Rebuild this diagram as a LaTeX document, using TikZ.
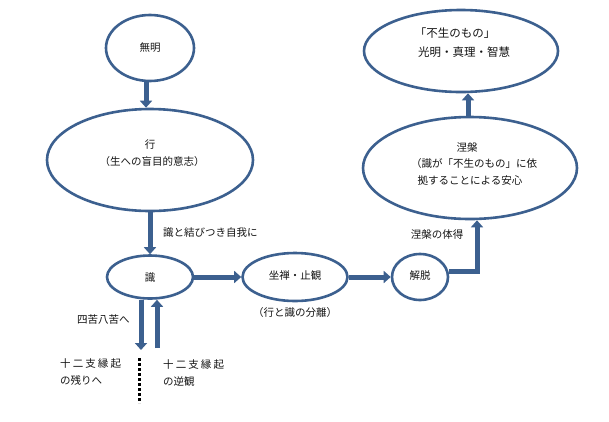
\documentclass[tikz,border=0pt]{standalone}
\usepackage{fontspec}
\setmainfont{Noto Sans CJK JP}
\usetikzlibrary{shapes.geometric,arrows.meta}
\definecolor{edge}{RGB}{60,96,143}
\definecolor{ink}{RGB}{20,20,20}
\begin{document}
\begin{tikzpicture}[x=1pt,y=-1pt,
  oval/.style={ellipse,draw=edge,line width=2.6pt,inner sep=0pt,fill=white},
  arr/.style={draw=edge,line width=5pt,-{Triangle[length=7pt,width=12pt]}},
  txt/.style={text=ink,font=\fontsize{10.5}{14}\selectfont,inner sep=0pt},
  bigtxt/.style={text=ink,font=\fontsize{11.5}{14}\selectfont,inner sep=0pt},
  dots/.style={draw=black,line width=3pt,dash pattern=on 2.5pt off 2.5pt},
]
\fill[white] (0,0) rectangle (609,421);
\useasboundingbox (0,0) rectangle (609,421);

% ellipses
\node[oval,minimum width=88pt,minimum height=66pt] (mumyo) at (150,48) {};
\node[oval,minimum width=206pt,minimum height=102pt] (gyo) at (150,160) {};
\node[oval,minimum width=86pt,minimum height=43pt] (shiki) at (150,277) {};
\node[oval,minimum width=105pt,minimum height=48pt] (zazen) at (295,277) {};
\node[oval,minimum width=56pt,minimum height=46pt] (gedatsu) at (420,277) {};
\node[oval,minimum width=214pt,minimum height=102pt] (nehan) at (470,168) {};
\node[oval,minimum width=194pt,minimum height=82pt] (fusho) at (461,51) {};

% texts inside
\node[txt] (tmumyo) at (150,48) {無明};
\node[txt] (tgyo1) at (150,145) {行};
\node[txt] (tgyo2) at (152,162) {（生への盲目的意志）};
\node[txt] (tshiki) at (150,278) {識};
\node[txt] (tzazen) at (295,276) {坐禅・止観};
\node[txt] (tgedatsu) at (420,276) {解脱};
\node[txt] (tnehan1) at (467,147) {涅槃};
\node[txt] (tnehan2) at (474,164) {（識が「不生のもの」に依};
\node[txt] (tnehan3) at (470,181) {拠することによる安心};
\node[bigtxt] (tfusho1) at (455,33) {「不生のもの」};
\node[bigtxt] (tfusho2) at (464,52) {光明・真理・智慧};

% labels
\node[txt,anchor=west] (lga) at (163,233) {識と結びつき自我に};
\node[txt,anchor=west] (lsiku) at (77,320) {四苦八苦へ};
\node[txt,anchor=west,align=left] (lnokori) at (60,372) {\addfontfeature{LetterSpace=20}十二支縁起\\[3pt]の残りへ};
\node[txt,anchor=west,align=left] (lgyakkan) at (163,373) {\addfontfeature{LetterSpace=20}十二支縁起\\[3pt]の逆観};
\node[txt] (lbunri) at (295,313) {（行と識の分離）};
\node[txt] (ltaitoku) at (437,235) {涅槃の体得};

% connectors
\draw[arr] ([xshift=-4pt]mumyo.south) -- ([xshift=-4pt]gyo.north);
\draw[arr] (gyo) -- (shiki);
\draw[arr] (shiki) -- (zazen);
\draw[arr] (zazen) -- (gedatsu);
\draw[arr] ([yshift=6pt]gedatsu.east) -| ([xshift=7pt]nehan.south);
\draw[arr] ([xshift=-2pt]nehan.north) -- ([xshift=7pt]fusho.south);

\coordinate (dn) at (141,350);
\coordinate (up) at (157,348);
\draw[arr] ([xshift=-9pt]shiki.south) -- (dn);
\draw[arr] (up) -- ([xshift=7pt]shiki.south);

\coordinate (dt1) at (139,358);
\coordinate (dt2) at (139,403);
\draw[dots] (dt1) -- (dt2);
\end{tikzpicture}
\end{document}
